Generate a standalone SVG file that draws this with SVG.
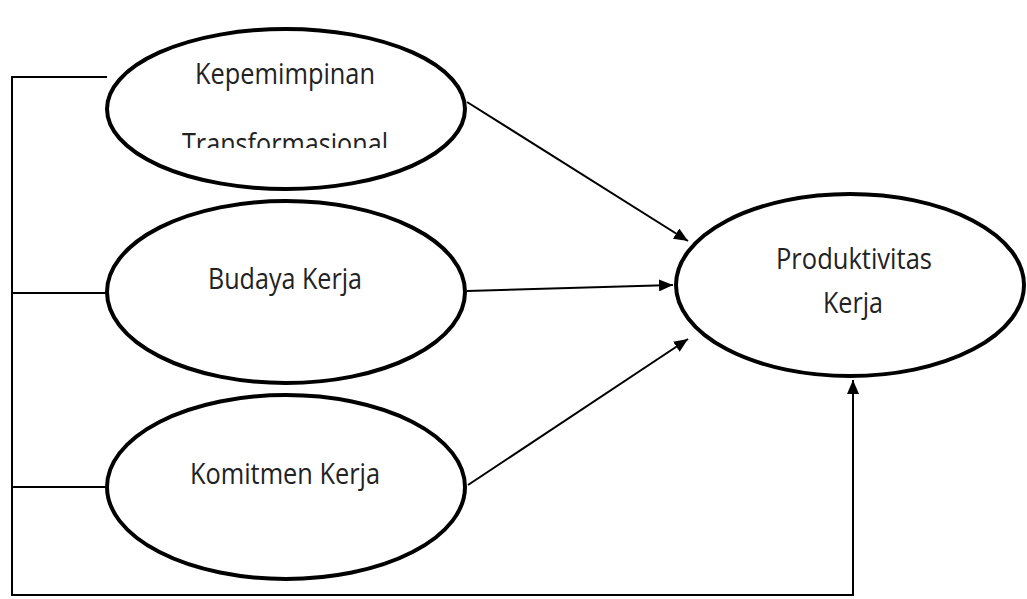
<svg xmlns="http://www.w3.org/2000/svg" width="1027" height="599" viewBox="0 0 1027 599">
<style>
.node{fill:#fff;stroke:#000;stroke-width:4}
.lbl{font-family:"Open Sans","Liberation Sans",sans-serif;font-size:29px;fill:#222;text-anchor:middle}
.con{fill:none;stroke:#000;stroke-width:2}
</style>
<defs>
<marker id="ah" viewBox="0 0 14 12" refX="14" refY="6" markerWidth="14" markerHeight="12" markerUnits="userSpaceOnUse" orient="auto">
<path d="M0,0 L14,6 L0,12 Z" fill="#000"/>
</marker>
<clipPath id="clip1"><rect x="100" y="20" width="380" height="128"/></clipPath>
</defs>
<rect width="1027" height="599" fill="#fff"/>
<g id="connectors">
<polyline class="con" points="107,77 12,77 12,595 853,595 853,380" marker-end="url(#ah)"/>
<line class="con" x1="12" y1="293" x2="107" y2="293"/>
<line class="con" x1="12" y1="487" x2="107" y2="487"/>
<line class="con" x1="467" y1="102" x2="688" y2="241" marker-end="url(#ah)"/>
<line class="con" x1="467" y1="291" x2="673" y2="285" marker-end="url(#ah)"/>
<line class="con" x1="468" y1="485" x2="688" y2="339" marker-end="url(#ah)"/>
</g>
<g id="node-kepemimpinan">
<ellipse class="node" cx="286" cy="109" rx="179" ry="80"/>
<text class="lbl" x="285" y="84" textLength="180" lengthAdjust="spacingAndGlyphs">Kepemimpinan</text>
<text class="lbl" x="285" y="154" textLength="206" lengthAdjust="spacingAndGlyphs" clip-path="url(#clip1)">Transformasional</text>
</g>
<g id="node-budaya">
<ellipse class="node" cx="286" cy="292" rx="179" ry="91"/>
<text class="lbl" x="285" y="289" textLength="154" lengthAdjust="spacingAndGlyphs">Budaya Kerja</text>
</g>
<g id="node-komitmen">
<ellipse class="node" cx="286" cy="487" rx="179" ry="92"/>
<text class="lbl" x="285" y="484" textLength="190" lengthAdjust="spacingAndGlyphs">Komitmen Kerja</text>
</g>
<g id="node-produktivitas">
<ellipse class="node" cx="850" cy="285" rx="174" ry="91"/>
<text class="lbl" x="854" y="269" textLength="156" lengthAdjust="spacingAndGlyphs">Produktivitas</text>
<text class="lbl" x="853" y="313" textLength="60" lengthAdjust="spacingAndGlyphs">Kerja</text>
</g>
</svg>
